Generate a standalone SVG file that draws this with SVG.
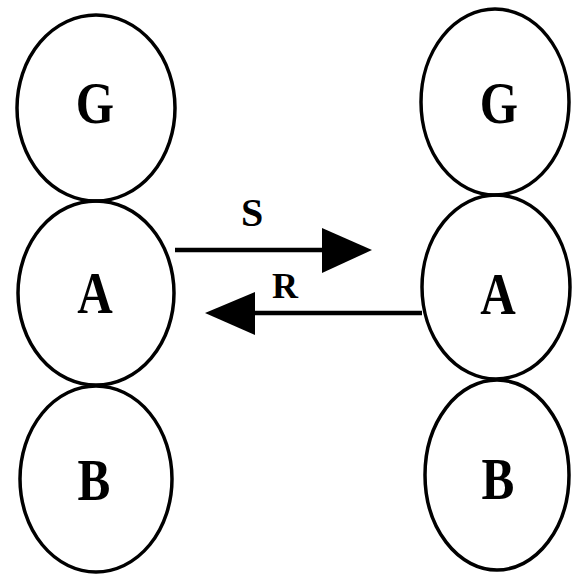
<svg xmlns="http://www.w3.org/2000/svg" width="583" height="575" viewBox="0 0 583 575">
<style>
.n ellipse{fill:none;stroke:#000;stroke-width:3.5}
.n text,.lbl{font-family:"Liberation Serif","Times New Roman",serif;font-weight:bold;fill:#000;text-anchor:middle}
.n text{font-size:60px}
.c line{stroke:#000;stroke-width:4.5}
.c polygon{fill:#000}
</style>
<rect width="583" height="575" fill="#fff"/>
<g id="G1" class="n"><ellipse cx="96" cy="108" rx="79" ry="93"/><text transform="translate(95,123) scale(0.82,1)">G</text></g>
<g id="A1" class="n"><ellipse cx="96" cy="293" rx="78" ry="92"/><text transform="translate(95,313) scale(0.82,1)">A</text></g>
<g id="B1" class="n"><ellipse cx="96" cy="479" rx="76" ry="93"/><text transform="translate(94,500) scale(0.82,1)">B</text></g>
<g id="G2" class="n"><ellipse cx="495" cy="102" rx="74" ry="93"/><text transform="translate(499,123) scale(0.82,1)">G</text></g>
<g id="A2" class="n"><ellipse cx="496" cy="287" rx="74" ry="92"/><text transform="translate(498,314) scale(0.82,1)">A</text></g>
<g id="B2" class="n"><ellipse cx="497" cy="475" rx="72" ry="95"/><text transform="translate(498,499) scale(0.82,1)">B</text></g>
<g id="connectors" class="c">
<line x1="175" y1="250" x2="325" y2="250"/>
<polygon points="322,228 372,250 322,273"/>
<line x1="422" y1="313" x2="252" y2="313"/>
<polygon points="255,292 205,313 255,335"/>
</g>
<text class="lbl" x="252" y="226" font-size="40">S</text>
<text class="lbl" x="285" y="298" font-size="36">R</text>
</svg>
